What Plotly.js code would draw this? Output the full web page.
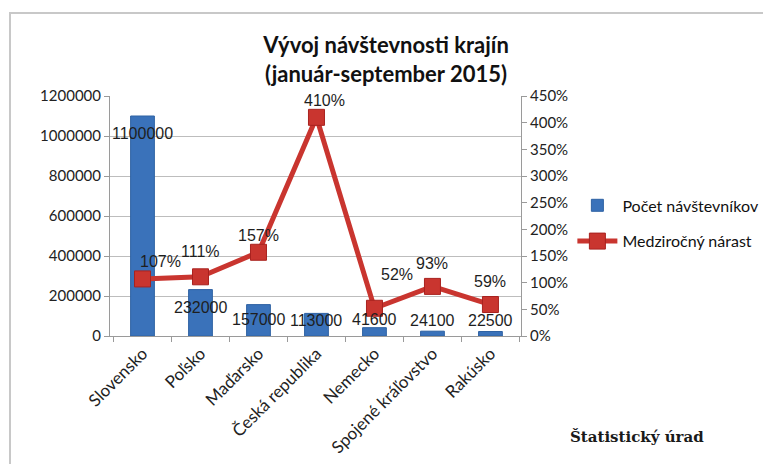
<!DOCTYPE html>
<html>
<head>
<meta charset="utf-8">
<script src="https://cdn.plot.ly/plotly-3.0.1.min.js"></script>
<style>
  html, body { margin: 0; padding: 0; background: #fff; }
  #wrap { position: relative; width: 763px; height: 464px; overflow: hidden; }
  #chart { position: absolute; left: 0; top: 0; width: 763px; height: 464px; }
  #frame { position: absolute; left: 9px; top: 12px; width: 760px; height: 460px;
           border-left: 2px solid #c8c8c8; border-top: 2px solid #c8c8c8; pointer-events: none; }
</style>
</head>
<body>
<div id="wrap">
  <div id="chart"></div>
  <div id="frame"></div>
</div>
<script>
// ---- data ----
const categories = ["Slovensko", "Poľsko", "Maďarsko", "Česká republika", "Nemecko", "Spojené kráľovstvo", "Rakúsko"];
const visitors = [1100000, 232000, 157000, 113000, 41600, 24100, 22500];
const growth = [1.07, 1.11, 1.57, 4.10, 0.52, 0.93, 0.59];
const visitorsName = "Počet návštevníkov";
const growthName = "Medziročný nárast";
const leftTicks = [0, 200000, 400000, 600000, 800000, 1000000, 1200000];
const rightTicks = [0, 0.5, 1, 1.5, 2, 2.5, 3, 3.5, 4, 4.5];

// ---- label offsets (styling) ----
const barLabelShift = [-17, -18, -15, -7, 8, 11, 11];
const lineLabelDX = [18, 0, 0, 8, 23, 0, 0];
const lineLabelDY = [17, 25, 17, 17, 34, 23, 23];

const labelFont = { family: "Liberation Sans, Arial, sans-serif", size: 16, color: "#1e1e1e" };
const tickFont = { family: "Lato, sans-serif", size: 15, color: "#222" };

const traces = [
  {
    type: "bar", name: visitorsName, x: categories, y: visitors, legendgroup: "g1",
    marker: { color: "#3a72ba", line: { color: "#2f62a3", width: 1 } },
    width: 0.41, yaxis: "y", hoverinfo: "skip"
  },
  {
    type: "scatter", mode: "lines+markers", name: growthName, x: categories, y: growth,
    yaxis: "y2", legendgroup: "g2",
    line: { color: "#c9352f", width: 5 },
    marker: { symbol: "square", size: 16, color: "#c9352f", line: { color: "#a8221f", width: 1 } },
    hoverinfo: "skip"
  }
];

const annotations = [];
categories.forEach((c, i) => {
  annotations.push({
    x: c, y: visitors[i], xref: "x", yref: "y", text: String(visitors[i]),
    showarrow: false, yshift: barLabelShift[i], font: labelFont
  });
  annotations.push({
    x: c, y: growth[i], xref: "x", yref: "y2", text: Math.round(growth[i] * 100) + "%",
    showarrow: false, xshift: lineLabelDX[i], yshift: lineLabelDY[i], font: labelFont
  });
});
annotations.push({
  xref: "paper", yref: "paper", x: 1.282, y: -0.42, xanchor: "center", yanchor: "middle",
  text: "<b>Štatistický úrad</b>", showarrow: false,
  font: { family: "DejaVu Serif, serif", size: 15, color: "#1a1a1a" }
});

const layout = {
  width: 763, height: 464,
  margin: { l: 110, r: 242, t: 96, b: 128, autoexpand: false },
  paper_bgcolor: "#fff", plot_bgcolor: "#fff",
  title: {
    text: "<b>Vývoj návštevnosti krajín<br>(január-september 2015)</b>",
    font: { family: "Lato, sans-serif", size: 22, color: "#111" },
    x: 0.506, xanchor: "center", y: 0.885, yanchor: "top"
  },
  showlegend: true,
  legend: {
    x: 1.125, xanchor: "left", y: 0.615, yanchor: "top",
    font: { family: "Lato, sans-serif", size: 16, color: "#111" },
    traceorder: "grouped", tracegroupgap: 12, itemwidth: 40, bgcolor: "rgba(0,0,0,0)"
  },
  bargap: 0.59,
  xaxis: {
    type: "category", tickangle: -45, tickfont: { family: "Lato, sans-serif", size: 17, color: "#222" },
    showline: true, linecolor: "#9a9a9a", linewidth: 1,
    ticks: "outside", ticklen: 5, tickcolor: "#9a9a9a", tickson: "boundaries",
    showgrid: false, fixedrange: true, automargin: false
  },
  yaxis: {
    range: [0, 1200000], tickvals: leftTicks, ticktext: leftTicks.map(String),
    tickfont: tickFont, showline: true, linecolor: "#9a9a9a", linewidth: 1,
    ticks: "outside", ticklen: 5, tickcolor: "#9a9a9a",
    showgrid: true, gridcolor: "#bdbdbd", gridwidth: 1, zeroline: false, fixedrange: true, automargin: false
  },
  yaxis2: {
    overlaying: "y", side: "right", range: [0, 4.5], tickvals: rightTicks,
    ticktext: rightTicks.map(v => Math.round(v * 100) + "%"),
    tickfont: tickFont, showline: true, linecolor: "#9a9a9a", linewidth: 1,
    ticks: "outside", ticklen: 5, tickcolor: "#9a9a9a",
    showgrid: false, zeroline: false, fixedrange: true, automargin: false
  },
  annotations: annotations
};

Plotly.newPlot("chart", traces, layout, { staticPlot: true, displayModeBar: false });
</script>
</body>
</html>
